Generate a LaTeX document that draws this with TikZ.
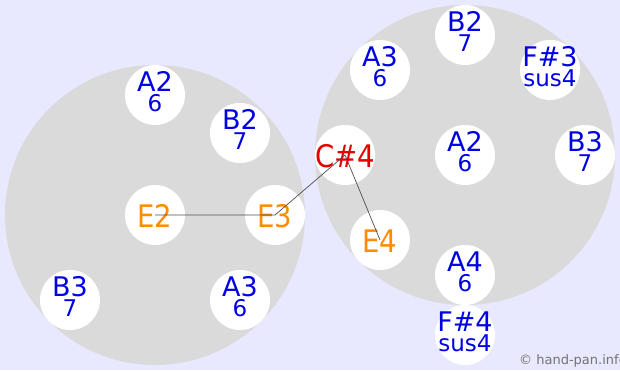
\documentclass[tikz,border=0pt]{standalone}
\usepackage{fontspec}
\setmainfont{DejaVu Sans}
\usepackage{graphicx}
\usepackage{tikz}
\usetikzlibrary{calc}

\definecolor{paperbg}{RGB}{232,232,255}
\definecolor{drumgrey}{RGB}{218,218,218}
\definecolor{noteblue}{RGB}{0,0,228}
\definecolor{noteorange}{RGB}{255,140,0}
\definecolor{notered}{RGB}{228,0,0}
\definecolor{linkgrey}{RGB}{80,80,80}

\begin{document}
\begin{tikzpicture}[x=1pt, y=-1pt,
    drum/.style={circle, fill=drumgrey, minimum size=300pt, inner sep=0pt},
    pad/.style={circle, fill=white, minimum size=60pt, inner sep=0pt},
    main/.style={anchor=base, inner sep=0pt, text=noteblue, font=\fontsize{27}{27}\selectfont},
    single/.style={anchor=base, inner sep=0pt, font=\fontsize{27.5}{28}\selectfont},
    sub/.style={anchor=base, inner sep=0pt, text=noteblue, font=\fontsize{23}{23}\selectfont}]
% ---------------- Background ----------------
\fill[paperbg] (0,0) rectangle (620,370);
\useasboundingbox (0,0) rectangle (620,370);
\clip (0,0) rectangle (620,370);

\node[drum] (D1) at (155,215) {};
\node[drum] (D2) at (465,155) {};

% =========================================================
% (1) Left drum
% =========================================================
\node[pad] (L1) at (155,95)  {};
\node[pad] (L2) at (240,133) {};
\node[pad] (L3) at (155,215) {};
\node[pad] (L4) at (275,215) {};
\node[pad] (L5) at (70,300)  {};
\node[pad] (L6) at (240,300) {};

\node[main] (L1m) at ($(L1)+(0,-4)$) {A2};  \node[sub] (L1s) at ($(L1)+(0,16)$) {6};
\node[main] (L2m) at ($(L2)+(0,-4)$) {B2};  \node[sub] (L2s) at ($(L2)+(0,16)$) {7};
\node[single, text=noteorange] (L3m) at ($(L3)+(0,12)$) {\scalebox{1}[1.13]{E2}};
\node[single, text=noteorange] (L4m) at ($(L4)+(0,12)$) {\scalebox{1}[1.13]{E3}};
\node[main] (L5m) at ($(L5)+(0,-4)$) {B3};  \node[sub] (L5s) at ($(L5)+(0,16)$) {7};
\node[main] (L6m) at ($(L6)+(0,-4)$) {A3};  \node[sub] (L6s) at ($(L6)+(0,16)$) {6};

% =========================================================
% (2) Right drum
% =========================================================
\node[pad] (R1) at (465,35)  {};
\node[pad] (R2) at (380,70)  {};
\node[pad] (R3) at (550,70)  {};
\node[pad] (R4) at (345,155) {};
\node[pad] (R5) at (465,155) {};
\node[pad] (R6) at (585,155) {};
\node[pad] (R7) at (380,240) {};
\node[pad] (R8) at (465,275) {};
\node[pad] (R9) at (465,335) {};

\node[main] (R1m) at ($(R1)+(0,-4)$) {B2};   \node[sub] (R1s) at ($(R1)+(0,16)$) {7};
\node[main] (R2m) at ($(R2)+(0,-4)$) {A3};   \node[sub] (R2s) at ($(R2)+(0,16)$) {6};
\node[main] (R3m) at ($(R3)+(0,-4)$) {F\#3}; \node[sub] (R3s) at ($(R3)+(0,16)$) {sus4};
\node[single, text=notered] (R4m) at ($(R4)+(0,12)$) {\scalebox{1}[1.13]{C\#4}};
\node[main] (R5m) at ($(R5)+(0,-4)$) {A2};   \node[sub] (R5s) at ($(R5)+(0,16)$) {6};
\node[main] (R6m) at ($(R6)+(0,-4)$) {B3};   \node[sub] (R6s) at ($(R6)+(0,16)$) {7};
\node[single, text=noteorange] (R7m) at ($(R7)+(0,12)$) {\scalebox{1}[1.13]{E4}};
\node[main] (R8m) at ($(R8)+(0,-4)$) {A4};   \node[sub] (R8s) at ($(R8)+(0,16)$) {6};
\node[main] (R9m) at ($(R9)+(0,-4)$) {F\#4}; \node[sub] (R9s) at ($(R9)+(0,16)$) {sus4};

% ---------------- Links ----------------
\draw[linkgrey, line width=0.7pt] (L3.center) -- (L4.center) -- (R4.center) -- (R7.center);

\node[anchor=base west, inner sep=0pt, text=black!55, font=\fontsize{13}{13}\selectfont] (copy) at (519,364) {© hand-pan.info};
\end{tikzpicture}
\end{document}
